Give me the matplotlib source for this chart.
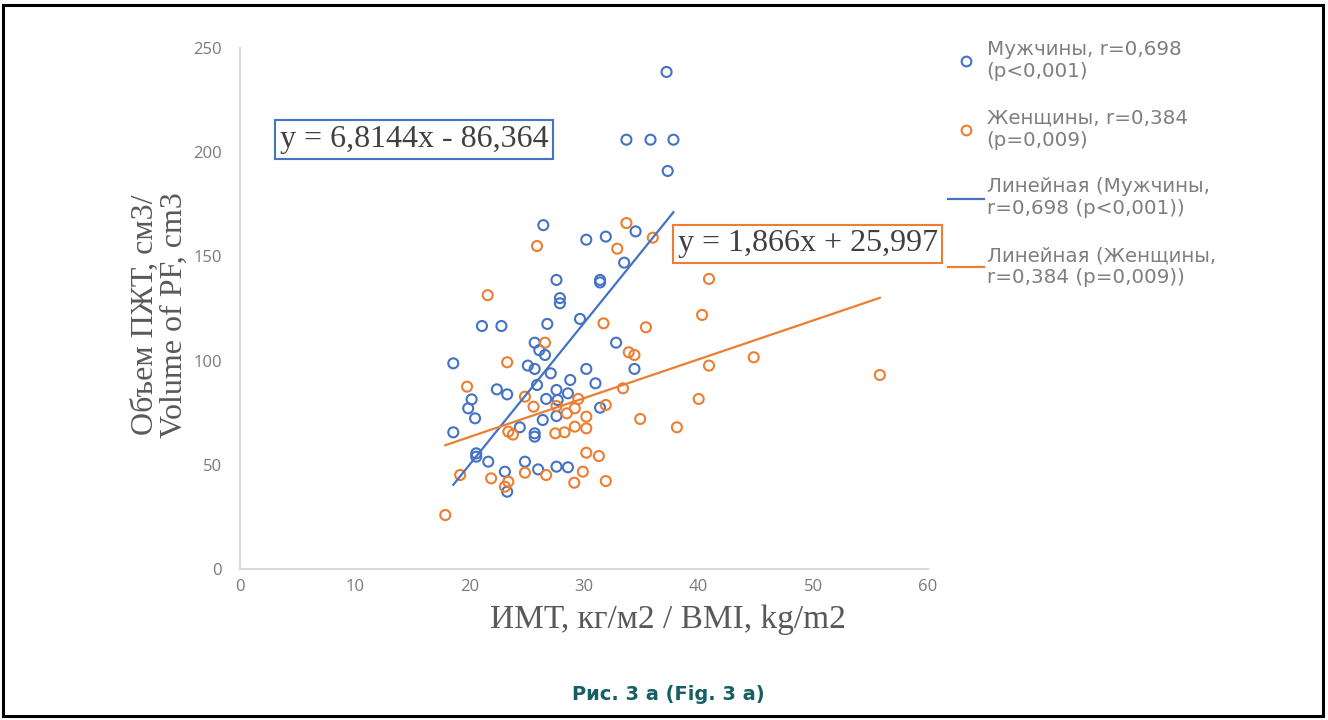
import numpy as np
import matplotlib.pyplot as plt
from matplotlib.lines import Line2D
from matplotlib.patches import Rectangle

# ИМТ / объем ПЖТ, мужчины
men_bmi = [37.2, 33.7, 35.8, 37.8, 37.3, 26.45, 34.5, 30.2, 31.9, 33.5,
           27.6, 31.4, 31.4, 27.9, 27.9, 21.1, 22.8, 26.8, 29.65, 25.7,
           26.1, 26.6, 32.8, 34.4, 18.6, 25.1, 25.7, 27.1, 30.2, 28.8,
           31.0, 25.9, 22.4, 23.3, 27.6, 28.6, 26.7, 27.7, 20.2, 19.9,
           20.5, 31.4, 27.6, 26.4, 18.6, 24.4, 25.7, 25.7, 20.6, 20.6,
           21.65, 23.1, 23.3, 24.85, 26.0, 27.6, 28.6]
men_vol = [238.5, 206, 206, 206, 191, 165, 162, 158, 159.5, 147,
           138.7, 138.7, 137.5, 130, 127.5, 116.6, 116.6, 117.6, 120, 108.6,
           105, 102.7, 108.6, 96, 98.7, 97.6, 96, 93.9, 96, 90.7,
           89.1, 88.3, 86.2, 83.8, 85.9, 84.3, 81.6, 81.1, 81.4, 77.1,
           72.3, 77.4, 73.4, 71.5, 65.6, 68, 65.1, 63.5, 55.5, 53.9,
           51.5, 46.7, 37.1, 51.5, 47.8, 49.1, 48.8]

# женщины
women_bmi = [21.6, 25.9, 33.7, 36.0, 32.9, 40.9, 31.7, 35.4, 40.3, 26.6,
             33.9, 34.4, 40.9, 44.8, 55.8, 23.3, 19.8, 33.4, 24.85, 29.5,
             40.0, 25.6, 27.6, 29.2, 31.9, 28.5, 30.2, 34.9, 38.1, 23.4,
             23.8, 27.5, 28.3, 29.2, 30.2, 19.2, 21.9, 23.4, 23.1, 24.85,
             26.7, 30.2, 31.3, 29.9, 29.15, 31.9, 17.9]
women_vol = [131.4, 155, 166, 159, 153.7, 139.2, 117.9, 116, 121.9, 108.6,
             104, 102.7, 97.6, 101.6, 93.1, 99.2, 87.5, 86.7, 82.7, 81.6,
             81.6, 77.9, 78.2, 77.1, 78.7, 74.7, 73.1, 72, 68, 65.9,
             64.5, 65.1, 65.6, 68.3, 67.5, 45.1, 43.5, 41.9, 39.5, 46.2,
             45.1, 55.8, 54.2, 46.7, 41.4, 42.2, 25.9]

# линии тренда (коэффициенты из уравнений на графике)
men_fit = (6.8144, -86.364)
women_fit = (1.866, 25.997)
men_eq = "y = 6,8144x - 86,364"
women_eq = "y = 1,866x + 25,997"

labels = ["Мужчины, r=0,698\n(p<0,001)",
          "Женщины, r=0,384\n(p=0,009)",
          "Линейная (Мужчины,\nr=0,698 (p<0,001))",
          "Линейная (Женщины,\nr=0,384 (p=0,009))"]

x_ticks = [0, 10, 20, 30, 40, 50, 60]
y_ticks = [0, 50, 100, 150, 200, 250]

BLUE = '#4472C4'
ORANGE = '#ED7D31'
GRAY_AX = '#d9d9d9'
GRAY_TXT = '#7a7a7a'

fig = plt.figure(figsize=(13.28, 7.2), dpi=100)
ax = fig.add_axes([240 / 1328, (720 - 569) / 720, (928 - 240) / 1328, (569 - 48) / 720])

ax.scatter(men_bmi, men_vol, s=52, facecolors='none', edgecolors=BLUE, linewidths=1.5, zorder=3)
ax.scatter(women_bmi, women_vol, s=52, facecolors='none', edgecolors=ORANGE, linewidths=1.5, zorder=3)

xm = np.array([min(men_bmi), max(men_bmi)])
xw = np.array([min(women_bmi), max(women_bmi)])
ax.plot(xm, men_fit[0] * xm + men_fit[1], color=BLUE, lw=1.6, zorder=4)
ax.plot(xw, women_fit[0] * xw + women_fit[1], color=ORANGE, lw=1.6, zorder=4)

ax.set_xlim(0, 60)
ax.set_ylim(0, 250)
ax.set_xticks(x_ticks)
ax.set_yticks(y_ticks)
ax.tick_params(length=0, labelsize=12, labelcolor=GRAY_TXT)
ax.tick_params(axis='y', pad=13)
ax.tick_params(axis='x', pad=7)
for lab in ax.get_xticklabels() + ax.get_yticklabels():
    lab.set_family('Open Sans')
for s in ['top', 'right']:
    ax.spines[s].set_visible(False)
for s in ['left', 'bottom']:
    ax.spines[s].set_color(GRAY_AX)
    ax.spines[s].set_linewidth(1.5)

serif = 'Liberation Serif'
fig.text(668 / 1328, 1 - 620 / 720, "ИМТ, кг/м2 / BMI, kg/m2", family=serif,
         fontsize=24, color='#595959', ha='center', va='center')
fig.text(160 / 1328, 1 - 315 / 720, "Объем ПЖТ, см3/\nVolume of PF, cm3", family=serif,
         fontsize=23, color='#595959', ha='center', va='center', rotation=90,
         multialignment='center', linespacing=0.98)

ax.text(15.2, 206, men_eq, family=serif, fontsize=23, color='#404040', ha='center', va='center',
        bbox=dict(boxstyle='square,pad=0.15', fc='white', ec=BLUE, lw=1.5), zorder=5)
ax.text(49.5, 156, women_eq, family=serif, fontsize=23, color='#404040', ha='center', va='center',
        bbox=dict(boxstyle='square,pad=0.15', fc='white', ec=ORANGE, lw=1.5), zorder=5, clip_on=False)

handles = [Line2D([], [], ls='none', marker='o', mfc='none', mec=BLUE, mew=1.5, ms=7),
           Line2D([], [], ls='none', marker='o', mfc='none', mec=ORANGE, mew=1.5, ms=7),
           Line2D([], [], color=BLUE, lw=1.6),
           Line2D([], [], color=ORANGE, lw=1.6)]
leg = fig.legend(handles, labels, loc='upper left', bbox_to_anchor=(930 / 1328, 1 - 22 / 720),
                 frameon=False, prop={'family': 'DejaVu Sans', 'size': 14.3},
                 labelcolor='#7f7f7f', handlelength=1.8, handletextpad=0.15, labelspacing=1.4)

fig.text(668 / 1328, 1 - 695 / 720, "Рис. 3 а (Fig. 3 а)", fontsize=14, fontweight='bold',
         color='#165f63', ha='center', va='center')

fig.patches.append(Rectangle((3 / 1328, 4 / 720), 1320 / 1328, 711 / 720, transform=fig.transFigure,
                             fill=False, ec='black', lw=2.2))

fig.savefig('out.png', dpi=100)
